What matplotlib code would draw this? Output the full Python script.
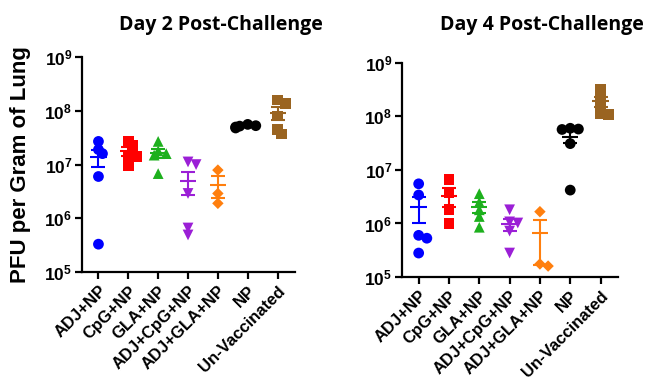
import numpy as np
import matplotlib
matplotlib.use("Agg")
import matplotlib.pyplot as plt

groups = ["ADJ+NP", "CpG+NP", "GLA+NP", "ADJ+CpG+NP", "ADJ+GLA+NP", "NP", "Un-Vaccinated"]
colors = ["#0000FF", "#FF0000", "#1DB01D", "#9B1FD6", "#FF7F0E", "#000000", "#9A6421"]
markers = ["o", "s", "^", "v", "D", "o", "s"]

# PFU per gram of lung, day 2
day2 = [
    [2.7e7, 1.9e7, 1.6e7, 6.0e6, 3.3e5],
    [2.7e7, 2.3e7, 1.5e7, 1.4e7, 9.5e6],
    [2.7e7, 1.8e7, 1.5e7, 1.6e7, 6.8e6],
    [1.12e7, 1.0e7, 2.9e6, 6.6e5, 4.9e5],
    [7.9e6, 2.9e6, 1.9e6],
    [5.6e7, 5.2e7, 5.0e7, 4.8e7, 5.3e7],
    [1.6e8, 1.38e8, 8.0e7, 4.5e7, 3.7e7],
]

# PFU per gram of lung, day 4
day4 = [
    [5.5e6, 3.4e6, 6.0e5, 5.3e5, 2.8e5],
    [6.7e6, 3.8e6, 1.8e6, 1.0e6],
    [3.6e6, 2.5e6, 1.8e6, 1.35e6, 8.5e5],
    [1.8e6, 1.07e6, 1.02e6, 7.2e5, 2.8e5],
    [1.66e6, 1.6e5, 1.75e5],
    [5.8e7, 6.0e7, 5.7e7, 3.1e7, 4.2e6],
    [3.2e8, 2.5e8, 1.65e8, 1.15e8, 1.1e8],
]

titles = ["Day 2 Post-Challenge", "Day 4 Post-Challenge"]

plt.rcParams["mathtext.fontset"] = "custom"
plt.rcParams["mathtext.bf"] = "Liberation Sans:bold"
plt.rcParams["mathtext.rm"] = "Liberation Sans:bold"
plt.rcParams["font.family"] = "Liberation Sans"

fig = plt.figure(figsize=(6.51, 3.81), dpi=100)
ax_left = fig.add_axes([0.126, 0.286, 0.327, 0.564])
ax_right = fig.add_axes([0.6175, 0.273, 0.332, 0.562])


def swarm(vals, px_per_cat=30.0, px_per_dec=53.7, diam=9.0):
    # simple beeswarm with some overlap allowed, returns x offsets in category units
    order = np.argsort(vals)[::-1]
    placed = []
    offs = np.zeros(len(vals))
    for i in order:
        y = np.log10(vals[i]) * px_per_dec
        for k in [0, 1, -1, 2, -2, 3, -3]:
            x = k * diam * 0.45
            if all((x - px) ** 2 + (y - py) ** 2 >= (diam * 0.6) ** 2 for px, py in placed):
                break
        placed.append((x, y))
        offs[i] = x / px_per_cat
    return offs


for ax, data, title in zip([ax_left, ax_right], [day2, day4], titles):
    for i, vals in enumerate(data):
        vals = np.array(vals)
        offs = swarm(vals)
        ms = 34 if markers[i] == "D" else 60
        ax.scatter(i + offs, vals, s=ms, marker=markers[i], color=colors[i],
                   edgecolors="none", zorder=3)
        mean = vals.mean()
        sem = vals.std(ddof=1) / np.sqrt(len(vals))
        ax.hlines(mean, i - 0.27, i + 0.27, color=colors[i], lw=1.5, zorder=4)
        ax.errorbar(i, mean, yerr=sem, color=colors[i], capsize=5, capthick=1.5,
                    elinewidth=1.5, fmt="none", zorder=4)
    ax.set_yscale("log")
    ax.set_ylim(1e5, 1e9)
    ax.set_xlim(-0.55, 6.58)
    ax.set_yticks([1e5, 1e6, 1e7, 1e8, 1e9])
    ax.set_yticklabels([r"$\mathbf{10^{%d}}$" % p for p in range(5, 10)], fontsize=12.5)
    ax.yaxis.set_minor_locator(matplotlib.ticker.NullLocator())
    ax.set_xticks(range(len(groups)))
    ax.set_xticklabels(groups, rotation=45, ha="right", rotation_mode="anchor",
                       fontsize=12, fontweight="bold")
    for s in ["top", "right"]:
        ax.spines[s].set_visible(False)
    for s in ["left", "bottom"]:
        ax.spines[s].set_linewidth(1.6)
    ax.tick_params(width=1.6, length=5, pad=2)
    ax.tick_params(axis="x", pad=3)

fig.text(0.339, 0.921, titles[0], ha="center", va="baseline", fontsize=14,
         fontweight="bold", family="Open Sans")
fig.text(0.833, 0.921, titles[1], ha="center", va="baseline", fontsize=14,
         fontweight="bold", family="Open Sans")
fig.text(0.031, 0.567, "PFU per Gram of Lung", rotation=90, ha="center", va="center",
         fontsize=16, fontweight="bold")

fig.savefig("out.png", dpi=100)
